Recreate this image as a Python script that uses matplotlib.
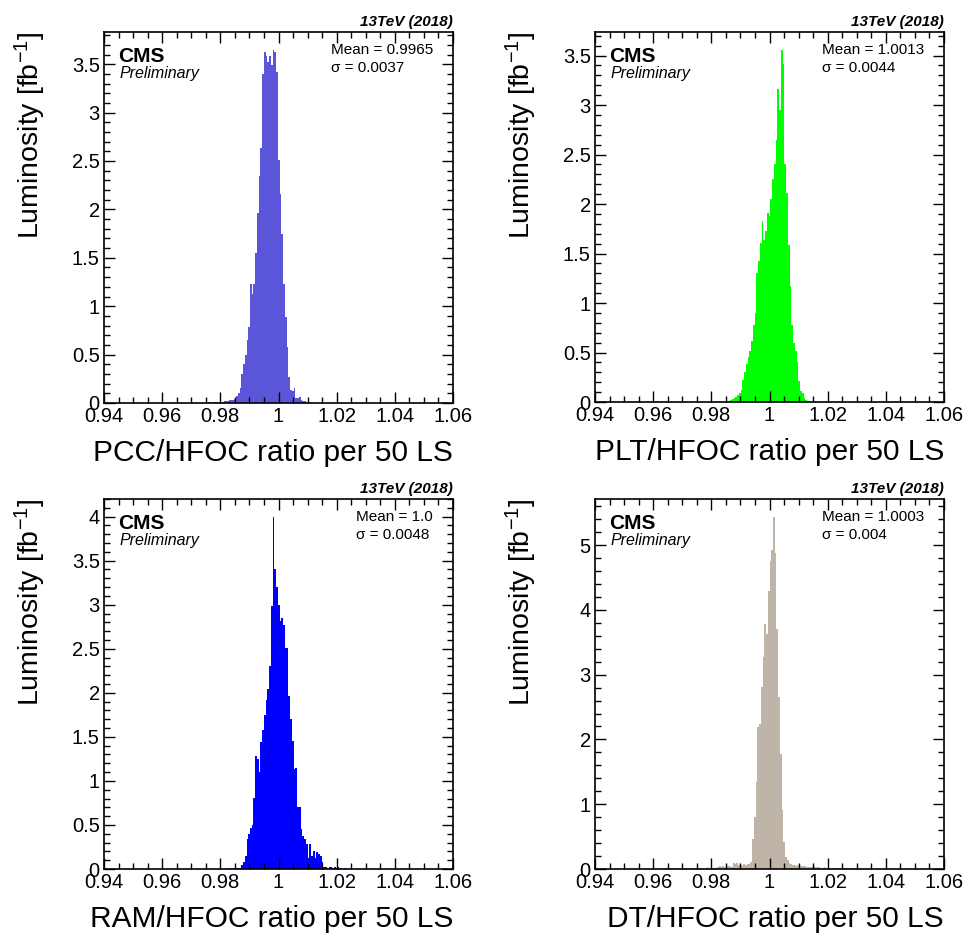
import matplotlib
matplotlib.use("Agg")
import matplotlib.pyplot as plt
import numpy as np
from matplotlib.ticker import MultipleLocator, FuncFormatter

plt.rcParams["font.family"] = ["Liberation Sans", "DejaVu Sans"]
plt.rcParams["mathtext.fontset"] = "custom"
plt.rcParams["mathtext.rm"] = "Liberation Sans"
plt.rcParams["mathtext.default"] = "regular"

BIN_W = 0.0006

# PCC / HFOC
pcc_start = 0.9740
pcc_lumi = [0.005, 0.0, 0.005, 0.01, 0.005, 0.005, 0.01, 0.01, 0.01, 0.015,
            0.01, 0.015, 0.02, 0.02, 0.025, 0.03, 0.03, 0.035,
            0.045, 0.07, 0.10, 0.15, 0.30, 0.40, 0.50, 0.65, 0.78, 1.23,
            1.13, 1.23, 1.55, 1.96, 2.35, 2.63, 3.40, 3.63, 3.58, 3.52,
            3.58, 3.49, 3.65, 3.63, 3.42, 2.51, 2.16, 1.75, 1.23, 0.89,
            0.58, 0.27, 0.13, 0.12, 0.15, 0.05, 0.05, 0.06, 0.03, 0.02,
            0.02, 0.015, 0.01, 0.01, 0.005, 0.005, 0.005, 0.0]

# PLT / HFOC
plt_start = 0.9817
plt_lumi = [0.0, 0.005, 0.005, 0.0, 0.005, 0.01, 0.01, 0.015, 0.02, 0.03,
            0.04, 0.05, 0.07, 0.09, 0.12, 0.22, 0.30, 0.38, 0.45, 0.52,
            0.62, 0.78, 0.90, 1.30, 1.42, 1.61, 1.83, 1.64, 1.73, 1.91,
            1.88, 2.05, 2.25, 2.40, 2.65, 3.16, 2.95, 3.56, 3.41, 2.40,
            2.11, 1.59, 1.17, 0.78, 0.60, 0.52, 0.40, 0.21, 0.11, 0.09,
            0.04, 0.02, 0.01, 0.005, 0.0, 0.005]

# RAM / HFOC
ram_start = 0.9800
ram_lumi = [0.0, 0.005, 0.0, 0.005, 0.005, 0.01, 0.005, 0.01, 0.01, 0.01,
            0.015, 0.01, 0.04, 0.08, 0.15, 0.34, 0.40, 0.47, 0.50, 0.81,
            1.28, 1.25, 1.10, 1.44, 1.58, 1.75, 1.92, 2.04, 2.30, 2.98,
            4.00, 3.40, 3.20, 3.00, 2.81, 2.85, 2.77, 2.51, 2.51, 1.96,
            1.70, 1.45, 1.13, 1.15, 0.70, 0.70, 0.45, 0.38, 0.34, 0.28,
            0.13, 0.28, 0.15, 0.21, 0.13, 0.19, 0.17, 0.15, 0.08, 0.02,
            0.02, 0.01, 0.02, 0.02, 0.01, 0.02, 0.01, 0.02, 0.01, 0.01,
            0.005, 0.01, 0.005, 0.0, 0.005]

# DT / HFOC
dt_start = 0.9628
dt_lumi = [0.0, 0.005, 0.01, 0.0, 0.005, 0.01, 0.0, 0.005, 0.01, 0.005,
           0.0, 0.01, 0.005, 0.01, 0.015, 0.005, 0.01, 0.015, 0.01, 0.005,
           0.01, 0.0, 0.015, 0.01, 0.0, 0.02, 0.025, 0.015, 0.0, 0.01,
           0.02, 0.015, 0.03, 0.04, 0.035, 0.04, 0.03, 0.04, 0.05, 0.04,
           0.03, 0.09, 0.08, 0.09, 0.06, 0.06, 0.05, 0.07, 0.06, 0.08,
           0.08, 0.11, 0.47, 0.80, 1.34, 2.19, 2.24, 2.81, 3.27, 3.78,
           3.63, 4.29, 4.75, 4.93, 5.44, 4.88, 3.70, 2.65, 1.78, 0.91,
           0.42, 0.19, 0.14, 0.09, 0.07, 0.06, 0.06, 0.05, 0.06, 0.04,
           0.04, 0.05, 0.04, 0.035, 0.03, 0.035, 0.03, 0.04, 0.03, 0.03,
           0.025, 0.02, 0.02, 0.025, 0.02, 0.015, 0.02, 0.015, 0.02, 0.01,
           0.015, 0.01, 0.015, 0.01, 0.01, 0.015, 0.01, 0.005, 0.01, 0.01,
           0.005, 0.01, 0.005, 0.005, 0.01, 0.0, 0.005]

x_labels = ["PCC/HFOC ratio per 50 LS", "PLT/HFOC ratio per 50 LS",
            "RAM/HFOC ratio per 50 LS", "DT/HFOC ratio per 50 LS"]
mean_texts = ["Mean = 0.9965", "Mean = 1.0013", "Mean = 1.0", "Mean = 1.0003"]
sigma_texts = ["σ = 0.0037", "σ = 0.0044", "σ = 0.0048", "σ = 0.004"]

panels = [
    (pcc_start, pcc_lumi, "#5b55d9", 0.5),
    (plt_start, plt_lumi, "#00ff00", 0.5),
    (ram_start, ram_lumi, "#0000ff", 0.5),
    (dt_start, dt_lumi, "#bfb4a8", 1.0),
]

W, H = 968, 938
frames = [(104, 32, 453, 403), (595, 32, 944, 402),
          (104, 499, 453, 869), (595, 499, 944, 869)]

fig = plt.figure(figsize=(W / 100, H / 100), dpi=100)

fmt = FuncFormatter(lambda v, p: f"{v:g}")

for i, (start, lumi, color, ymajor) in enumerate(panels):
    x0, y0, x1, y1 = frames[i]
    ax = fig.add_axes([x0 / W, 1 - y1 / H, (x1 - x0) / W, (y1 - y0) / H])
    lumi = np.asarray(lumi)
    edges = start + BIN_W * np.arange(len(lumi) + 1)
    ax.stairs(lumi, edges, fill=True, color=color, lw=0)

    ax.set_xlim(0.94, 1.06)
    ax.set_ylim(0, 1.05 * lumi.max())
    ax.xaxis.set_major_locator(MultipleLocator(0.02))
    ax.xaxis.set_minor_locator(MultipleLocator(0.005))
    ax.yaxis.set_major_locator(MultipleLocator(ymajor))
    ax.yaxis.set_minor_locator(MultipleLocator(ymajor / 5))
    ax.xaxis.set_major_formatter(fmt)
    ax.yaxis.set_major_formatter(fmt)
    ax.tick_params(which="both", direction="in", top=True, right=True,
                   labelsize=14.5, width=1.0, color="black")
    ax.tick_params(which="major", length=8, pad=3)
    ax.tick_params(which="minor", length=4)
    for s in ax.spines.values():
        s.set_linewidth(1.2)

    ax.text(1.0, -0.156, x_labels[i], transform=ax.transAxes,
            ha="right", va="baseline", fontsize=21.5)
    ax.text(-0.212, 1.0, "Luminosity [fb$^{-1}$]", transform=ax.transAxes,
            rotation=90, ha="center", va="top", fontsize=20.5)
    ax.text(1.0, 1.017, "13TeV (2018)", transform=ax.transAxes,
            ha="right", va="baseline", fontsize=11, fontweight="bold",
            fontstyle="italic")
    ax.text(0.041, 0.92, "CMS", transform=ax.transAxes,
            ha="left", va="baseline", fontsize=15, fontweight="bold")
    ax.text(0.043, 0.876, "Preliminary", transform=ax.transAxes,
            ha="left", va="baseline", fontsize=11.5, fontstyle="italic")
    # baseline of a two-line text sits on its last line
    ax.text(0.942, 0.893, mean_texts[i] + "\n" + sigma_texts[i],
            transform=ax.transAxes, ha="right", va="baseline",
            multialignment="left", fontsize=11, linespacing=1.3)

fig.savefig("out.png", dpi=100)
